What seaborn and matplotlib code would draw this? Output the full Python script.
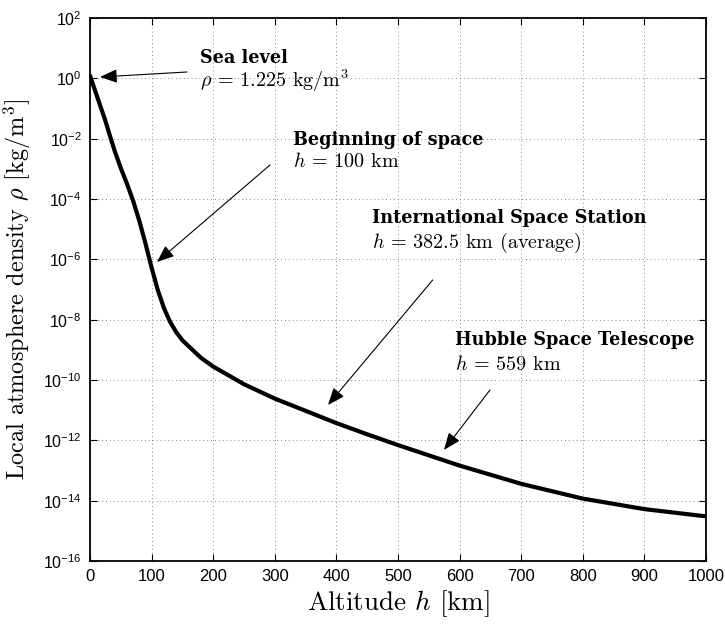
import numpy as np
import pandas as pd
import matplotlib
matplotlib.use("Agg")
import matplotlib.pyplot as plt
import seaborn as sns

# Altitude [km] and density [kg/m^3]
altitude_km = [0, 25, 30, 40, 50, 60, 70, 80, 90, 100, 110, 120, 130, 140, 150,
               180, 200, 250, 300, 350, 400, 450, 500, 600, 700, 800, 900, 1000]
density = [1.225, 3.899e-2, 1.774e-2, 3.972e-3, 1.057e-3, 3.206e-4, 8.770e-5,
           1.905e-5, 3.396e-6, 5.297e-7, 9.661e-8, 2.438e-8, 8.484e-9, 3.845e-9,
           2.070e-9, 5.464e-10, 2.789e-10, 7.248e-11, 2.418e-11, 9.518e-12,
           3.725e-12, 1.585e-12, 6.967e-13, 1.454e-13, 3.614e-14, 1.170e-14,
           5.245e-15, 3.019e-15]

x_ticks = [0, 100, 200, 300, 400, 500, 600, 700, 800, 900, 1000]
y_tick_exps = [-16, -14, -12, -10, -8, -6, -4, -2, 0, 2]

# annotation texts
ann_titles = ["Sea level", "Beginning of space", "International Space Station",
              "Hubble Space Telescope"]
ann_values = [r"$\rho$ = 1.225 kg/m$^3$", r"$h$ = 100 km",
              r"$h$ = 382.5 km (average)", r"$h$ = 559 km"]

sns.set_theme(style="ticks")
plt.rcParams["mathtext.fontset"] = "cm"
plt.rcParams["mathtext.rm"] = "Liberation Sans"
plt.rcParams["axes.unicode_minus"] = False
plt.rcParams["text.color"] = "black"
plt.rcParams["axes.labelcolor"] = "black"
plt.rcParams["xtick.color"] = "black"
plt.rcParams["ytick.color"] = "black"

df = pd.DataFrame({"h": altitude_km, "rho": density})

fig = plt.figure(figsize=(7.25, 6.25), dpi=100)
ax = fig.add_axes([90 / 725, 1 - 561 / 625, (706 - 90) / 725, (561 - 18) / 625])
ax.set_yscale("log")
sns.lineplot(data=df, x="h", y="rho", ax=ax, color="black", lw=3)

ax.set_xlim(0, 1000)
ax.set_ylim(1e-16, 1e2)
ax.set_xticks(x_ticks)
ax.set_xticklabels([str(t) for t in x_ticks], fontfamily="Liberation Sans", fontsize=12)
ax.set_yticks([10.0 ** e for e in y_tick_exps])
ax.yaxis.set_minor_locator(matplotlib.ticker.NullLocator())
ylabels = ax.set_yticklabels([r"$\mathregular{10^{%d}}$" % e for e in y_tick_exps],
                             fontfamily="Liberation Sans", fontsize=11.5)
for t in ylabels:
    t.set_math_fontfamily("custom")

ax.tick_params(direction="in", length=5, width=0.8, top=True, right=True,
               colors="black", pad=6)
for s in ax.spines.values():
    s.set_linewidth(1.3)
    s.set_color("black")
ax.grid(True, which="major", ls=(0, (1, 3)), color="#888888", lw=0.7)

cm_font = "cmr10"
ax.set_xlabel(r"Altitude $h$ [km]", fontfamily=cm_font, fontsize=19.5, labelpad=3)
ax.set_ylabel(r"Local atmosphere density $\rho$ [kg/m$^3$]", fontfamily=cm_font,
              fontsize=17.5, labelpad=7)


def px(xp, yp):
    return (xp - 90) / 0.616, 10 ** (2 - (yp - 18) / 30.17)


# text positions (pixel reference -> data)
title_pos = [(200, 63), (293, 145), (372, 223), (455, 345)]
value_pos = [(200, 87), (293, 167), (372, 248), (455, 370)]
arrow_tails = [(187, 72), (270, 165), (432.7, 280), (490, 390)]
arrow_tips = [(100, 77), (157, 262), (328, 405), (444, 450)]

for title, val, tp, vp in zip(ann_titles, ann_values, title_pos, value_pos):
    ax.text(*px(*tp), title, fontsize=12.7, fontweight="bold",
            fontfamily="DejaVu Serif", va="baseline", ha="left", color="black")
    ax.text(*px(*vp), val, fontsize=14.5, fontfamily=cm_font, va="baseline",
            ha="left", color="black")

for tail, tip in zip(arrow_tails, arrow_tips):
    ax.annotate("", xy=px(*tip), xytext=px(*tail),
                arrowprops=dict(arrowstyle="-|>,head_length=0.7,head_width=0.28",
                                mutation_scale=15, lw=0.8, color="black",
                                shrinkA=0, shrinkB=0))

fig.savefig("out.png", dpi=100)
